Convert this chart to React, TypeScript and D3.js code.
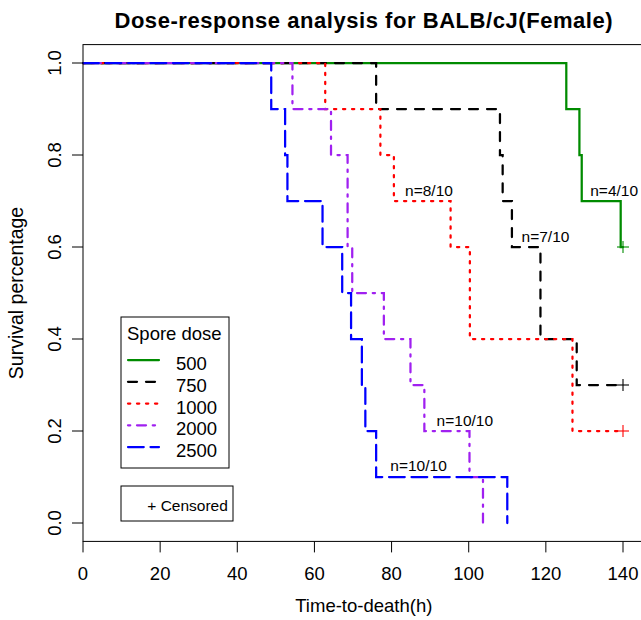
import React from "react";
import * as d3 from "d3";

// ---------- data ----------
const chartTitle = "Dose-response analysis for BALB/cJ(Female)";
const xTitle = "Time-to-death(h)";
const yTitle = "Survival percentage";
const xTicks = [0, 20, 40, 60, 80, 100, 120, 140];
const yTicks = [0, 0.2, 0.4, 0.6, 0.8, 1.0];

const doses = ["500", "750", "1000", "2000", "2500"];
const doseColors = ["#008B00", "#000000", "#FF0000", "#A020F0", "#0000FF"];
const doseLty = ["", "44", "13", "1343", "73"];

const times500 = [125.3, 128.7, 129.3, 139.4];
const surv500 = [0.9, 0.8, 0.7, 0.6];
const times750 = [76.0, 108.1, 108.8, 111.2, 118.6, 128.0];
const surv750 = [0.9, 0.8, 0.7, 0.6, 0.4, 0.3];
const times1000 = [62.8, 77.1, 80.6, 95.3, 100.3, 126.9];
const surv1000 = [0.9, 0.8, 0.7, 0.6, 0.4, 0.2];
const times2000 = [54.3, 64.3, 68.6, 69.8, 78.0, 84.9, 88.5, 100.2, 103.7];
const surv2000 = [0.9, 0.8, 0.6, 0.5, 0.4, 0.3, 0.2, 0.1, 0.0];
const times2500 = [48.8, 52.4, 53.0, 62.1, 67.2, 69.5, 72.3, 73.2, 76.0, 110.0];
const surv2500 = [0.9, 0.8, 0.7, 0.6, 0.5, 0.4, 0.3, 0.2, 0.1, 0.0];
const censorTimes = [140, 140, 140, null, null];

const seriesTimes = [times500, times750, times1000, times2000, times2500];
const seriesSurv = [surv500, surv750, surv1000, surv2000, surv2500];

const annotTexts = ["n=8/10", "n=4/10", "n=7/10", "n=10/10", "n=10/10"];
const annotT = [89.7, 137.7, 119.9, 99.0, 87.0];
const annotS = [0.71, 0.71, 0.61, 0.21, 0.112];

// ---------- layout ----------
const W = 641;
const H = 620;
const LWD = 2.25;
const FONT = "'Liberation Sans', Arial, Helvetica, sans-serif";

const x = d3.scaleLinear().domain([0, 140]).range([83, 623]);
const y = d3.scaleLinear().domain([0, 1]).range([523, 63]);

const boxL = x(0);
const boxR = x(145.6);
const boxT = y(1.04);
const boxB = y(-0.04);

function dash(lty: string): string | undefined {
  if (!lty) return undefined;
  return lty
    .split("")
    .map((c) => String(parseInt(c, 16) * LWD))
    .join(",");
}

const stepLine = d3
  .line<[number, number]>()
  .x((d) => x(d[0]))
  .y((d) => y(d[1]))
  .curve(d3.curveStepAfter);

export default function App() {
  const curves = doses.map((dose, i) => {
    const pts: [number, number][] = [[0, 1]];
    seriesTimes[i].forEach((t, j) => pts.push([t, seriesSurv[i][j]]));
    const c = censorTimes[i];
    if (c != null) pts.push([c, seriesSurv[i][seriesSurv[i].length - 1]]);
    return { dose, pts, color: doseColors[i], lty: doseLty[i], censor: c, last: seriesSurv[i][seriesSurv[i].length - 1] };
  });

  const legendRows = [360, 381.75, 403.5, 425.25, 447];

  return (
    <svg
      width={W}
      height={H}
      style={{ position: "absolute", left: 0, top: 0, background: "#fff" }}
      fontFamily={FONT}
    >
      <rect x={0} y={0} width={W} height={H} fill="#fff" />
      {/* title */}
      <text
        x={(boxL + boxR) / 2}
        y={27.5}
        textAnchor="middle"
        fontWeight="bold"
        fontSize={22}
        letterSpacing={0.55}
      >
        {chartTitle}
      </text>

      {/* curves */}
      {curves.map((c) => (
        <path
          key={c.dose}
          d={stepLine(c.pts) || ""}
          fill="none"
          stroke={c.color}
          strokeWidth={LWD}
          strokeDasharray={dash(c.lty)}
          strokeLinecap="round"
        />
      ))}

      {/* censor marks */}
      {curves
        .filter((c) => c.censor != null)
        .map((c) => (
          <g key={"cen" + c.dose} stroke={c.color} strokeWidth={1.1}>
            <line x1={x(c.censor as number) - 6} x2={x(c.censor as number) + 6} y1={y(c.last)} y2={y(c.last)} />
            <line x1={x(c.censor as number)} x2={x(c.censor as number)} y1={y(c.last) - 6} y2={y(c.last) + 6} />
          </g>
        ))}

      {/* annotations */}
      {annotTexts.map((t, i) => (
        <text key={"an" + i} x={x(annotT[i])} y={y(annotS[i])} textAnchor="middle" fontSize={15.5}>
          {t}
        </text>
      ))}

      {/* box */}
      <rect x={boxL} y={boxT} width={boxR - boxL} height={boxB - boxT} fill="none" stroke="#000" strokeWidth={1} />

      {/* x axis */}
      {xTicks.map((t) => (
        <g key={"xt" + t}>
          <line x1={x(t)} x2={x(t)} y1={boxB} y2={boxB + 11} stroke="#000" />
          <text x={x(t)} y={580} textAnchor="middle" fontSize={18.5}>
            {t}
          </text>
        </g>
      ))}
      <text x={(boxL + boxR) / 2} y={612} textAnchor="middle" fontSize={18.5}>
        {xTitle}
      </text>

      {/* y axis */}
      {yTicks.map((t) => (
        <g key={"yt" + t}>
          <line x1={boxL - 11} x2={boxL} y1={y(t)} y2={y(t)} stroke="#000" />
          <text
            transform={`translate(61,${y(t)}) rotate(-90)`}
            textAnchor="middle"
            fontSize={18.5}
          >
            {d3.format(".1f")(t)}
          </text>
        </g>
      ))}
      <text
        transform={`translate(23,${(boxT + boxB) / 2}) rotate(-90)`}
        textAnchor="middle"
        fontSize={19.5}
      >
        {yTitle}
      </text>

      {/* legend */}
      <rect x={121} y={317} width={108} height={151} fill="#fff" stroke="#000" strokeWidth={1} />
      <text x={127} y={340} fontSize={18.5}>
        Spore dose
      </text>
      {curves.map((c, i) => (
        <g key={"lg" + c.dose}>
          <line
            x1={128}
            x2={159}
            y1={legendRows[i]}
            y2={legendRows[i]}
            stroke={c.color}
            strokeWidth={LWD}
            strokeDasharray={dash(c.lty)}
            strokeLinecap="round"
          />
          <text x={176} y={legendRows[i] + 10} fontSize={18.5}>
            {c.dose}
          </text>
        </g>
      ))}
      <rect x={121} y={486} width={112} height={35} fill="#fff" stroke="#000" strokeWidth={1} />
      <text x={147.3} y={511} fontSize={15.5}>
        + Censored
      </text>
    </svg>
  );
}
